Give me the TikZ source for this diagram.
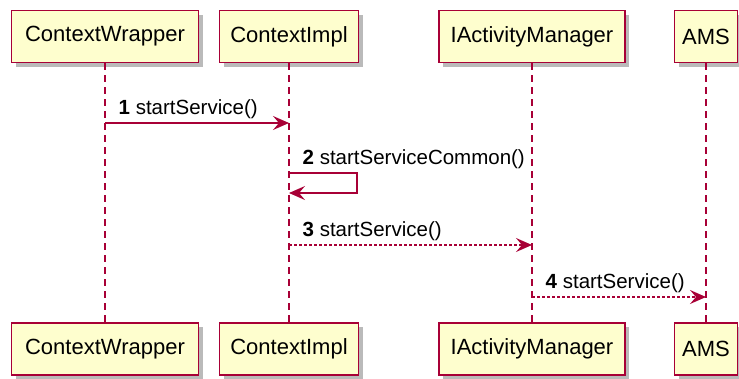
\documentclass[tikz,border=0pt]{standalone}
\usepackage{fontspec}
\setmainfont{Liberation Sans}
\usetikzlibrary{arrows.meta,shadows}
\definecolor{umlred}{HTML}{A80036}
\definecolor{umlfill}{HTML}{FEFECE}

\tikzset{
    actor/.style={draw=umlred, line width=1.8pt, fill=umlfill, minimum height=52pt,
        inner sep=0pt, font=\fontsize{22}{25}\selectfont,
        drop shadow={shadow xshift=4pt, shadow yshift=-4pt, opacity=.45, fill=black!60}},
    lifeline/.style={draw=umlred, line width=1.2pt, dash pattern=on 7pt off 5pt},
    msg/.style={draw=umlred, line width=1.4pt, -{Stealth[length=16pt,width=14pt,inset=6pt]}},
    reply/.style={msg, dash pattern=on 3pt off 2pt},
    msglabel/.style={anchor=west, inner sep=0pt, font=\fontsize{20.5}{23}\selectfont, xshift=13pt, yshift=14pt}
}

\begin{document}
\begin{tikzpicture}[x=1pt, y=-1pt]
    \useasboundingbox (0,0) rectangle (739,378);
    % Below nodes are the participants, top and bottom.
        \node[actor, minimum width=187pt] (cwtop) at (105,36.5) {ContextWrapper};
        \node[actor, minimum width=139pt] (citop) at (289,36.5) {ContextImpl};
        \node[actor, minimum width=186pt] (amtop) at (532,36.5) {IActivityManager};
        \node[actor, minimum width=63pt] (amstop) at (706,36.5) {AMS};
        \node[actor, minimum width=187pt] (cwbot) at (105,349) {ContextWrapper};
        \node[actor, minimum width=139pt] (cibot) at (289,349) {ContextImpl};
        \node[actor, minimum width=186pt] (ambot) at (532,349) {IActivityManager};
        \node[actor, minimum width=63pt] (amsbot) at (706,349) {AMS};
    % This draws the lifelines.
        \draw[lifeline] (cwtop) -- (cwbot);
        \draw[lifeline] (citop) -- (cibot);
        \draw[lifeline] (amtop) -- (ambot);
        \draw[lifeline] (amstop) -- (amsbot);
    % Below are the messages.
        \draw[msg] (cwtop |- 0,123) node[msglabel] {\textbf{1} startService()} -- (citop |- 0,123);
        \draw[msg] (citop |- 0,173) node[msglabel] {\textbf{2} startServiceCommon()} -- ++(68,0) |- (citop |- 0,193);
        \draw[reply] (citop |- 0,245) node[msglabel] {\textbf{3} startService()} -- (amtop |- 0,245);
        \draw[reply] (amtop |- 0,297) node[msglabel] {\textbf{4} startService()} -- (amstop |- 0,297);
\end{tikzpicture}
\end{document}
